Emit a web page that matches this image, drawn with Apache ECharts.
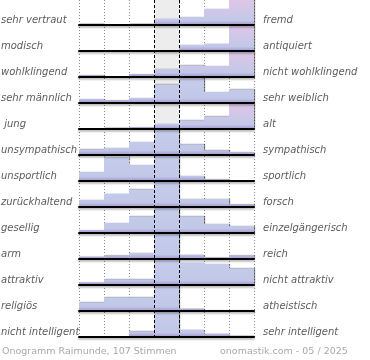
<!DOCTYPE html>
<html><head><meta charset="utf-8">
<script src="https://cdn.jsdelivr.net/npm/echarts@6/dist/echarts.min.js"></script>
<style>html,body{margin:0;padding:0;background:#fff}#c{width:370px;height:360px}</style>
</head><body><div id="c"></div>
<script>
// Seven answer steps between the two poles
const steps = ['1','2','3','4','5','6','7'];
const leftLabels = ['sehr vertraut','modisch','wohlklingend','sehr männlich',' jung','unsympathisch','unsportlich','zurückhaltend','gesellig','arm','attraktiv','religiös','nicht intelligent'];
const rightLabels = ['fremd','antiquiert','nicht wohlklingend','sehr weiblich','alt','sympathisch','sportlich','forsch','einzelgängerisch','reich','nicht attraktiv','atheistisch','sehr intelligent'];
// Bar heights, percent of each row's highest bar
const vertraut     = [5, 0, 5, 26, 33, 64, 100];
const modisch      = [0, 0, 0, 0, 24, 30, 100];
const wohlklingend = [7, 0, 12, 32, 47, 45, 100];
const maennlich    = [17, 12, 21, 75, 100, 45, 55];
const jung         = [0, 5, 7, 22, 35, 51, 100];
const unsympathisch= [23, 28, 52, 100, 43, 19, 13];
const unsportlich  = [37, 97, 65, 100, 20, 7, 0];
const zurueck      = [28, 54, 71, 100, 32, 32, 11];
const gesellig     = [12, 41, 67, 100, 67, 36, 28];
const arm          = [9, 15, 24, 100, 18, 6, 15];
const attraktiv    = [10, 23, 23, 100, 90, 85, 67];
const religioes    = [35, 55, 55, 100, 9, 4, 4];
const intelligent  = [0, 0, 23, 100, 30, 14, 5];
const footerLeft = 'Onogramm Raimunde, 107 Stimmen';
const footerRight = 'onomastik.com - 05 / 2025';

const rows = [vertraut, modisch, wohlklingend, maennlich, jung, unsympathisch, unsportlich, zurueck, gesellig, arm, attraktiv, religioes, intelligent];

const ROW_H = 26, LEFT = 79, WIDTH = 175;
const grids = [], xAxes = [], yAxes = [], series = [], graphics = [];
const font = 'DejaVu Sans';

rows.forEach((vals, k) => {
  const top = ROW_H * k;
  const pink = vals[6] === Math.max(...vals);
  grids.push({left: LEFT, width: WIDTH, top: top, height: 25});
  xAxes.push({type: 'category', gridIndex: k, data: steps, z: 6,
    axisTick: {show: false}, axisLabel: {show: false}, splitLine: {show: false},
    axisLine: {lineStyle: {color: '#000', width: 2, shadowColor: 'rgba(0,0,0,0.35)', shadowOffsetY: 1.5, shadowBlur: 2}}});
  yAxes.push({type: 'value', gridIndex: k, min: 0, max: 100, show: false});
  series.push({type: 'bar', xAxisIndex: k, yAxisIndex: k, data: vals, barWidth: '100%', z: 3, silent: true,
    itemStyle: {
      color: {type: 'linear', x: 0, y: top, x2: 0, y2: top + 25, global: true,
        colorStops: pink ? [
          {offset: 0, color: '#dec6e6'}, {offset: 0.45, color: '#cfc7e8'},
          {offset: 0.82, color: '#c2c8e8'}, {offset: 1, color: '#a597cf'}]
        : [
          {offset: 0, color: '#c6cdea'}, {offset: 0.82, color: '#c1c7e7'}, {offset: 1, color: '#a597cf'}]},
      shadowColor: 'rgba(0,0,0,0.45)', shadowOffsetX: 1, shadowOffsetY: 0, shadowBlur: 1
    }});
  const ly = top + 20;
  graphics.push({type: 'text', left: null, x: 1, y: ly, style: {text: leftLabels[k], font: 'italic 10px "' + font + '"', fill: '#5c5c5c', textVerticalAlign: 'middle'}});
  graphics.push({type: 'text', x: 263, y: ly, style: {text: rightLabels[k], font: 'italic 10px "' + font + '"', fill: '#5c5c5c', textVerticalAlign: 'middle'}});
});

// background grid spanning all rows
const bg = rows.length;
grids.push({left: LEFT, width: WIDTH, top: 0, height: 338});
xAxes.push({type: 'value', gridIndex: bg, min: 0, max: 7, interval: 1, z: 0,
  axisLine: {show: false}, axisTick: {show: false}, axisLabel: {show: false},
  splitLine: {show: true, lineStyle: {color: '#8a8a8a', width: 1, type: [1, 2]}}});
yAxes.push({type: 'value', gridIndex: bg, min: 0, max: 1, show: false, splitLine: {show: false}});
series.push({type: 'line', xAxisIndex: bg, yAxisIndex: bg, data: [], silent: true, showSymbol: false,
  markArea: {silent: true, z: 1, itemStyle: {color: '#ededed'}, data: [[{xAxis: 3}, {xAxis: 4}]]},
  markLine: {silent: true, z: 8, symbol: 'none', label: {show: false},
    lineStyle: {color: '#000', width: 1, type: [3, 2]}, data: [{xAxis: 3}, {xAxis: 4}]}});

graphics.push({type: 'text', x: 2, y: 352, style: {text: footerLeft, font: '9.5px "' + font + '"', fill: '#a9a9a9', textVerticalAlign: 'middle'}});
graphics.push({type: 'text', x: 220, y: 352, style: {text: footerRight, font: '9.5px "' + font + '"', fill: '#a9a9a9', textVerticalAlign: 'middle'}});

const chart = echarts.init(document.getElementById('c'), null, {renderer: 'canvas'});
chart.setOption({animation: false, grid: grids, xAxis: xAxes, yAxis: yAxes, series: series, graphic: graphics});
</script></body></html>
